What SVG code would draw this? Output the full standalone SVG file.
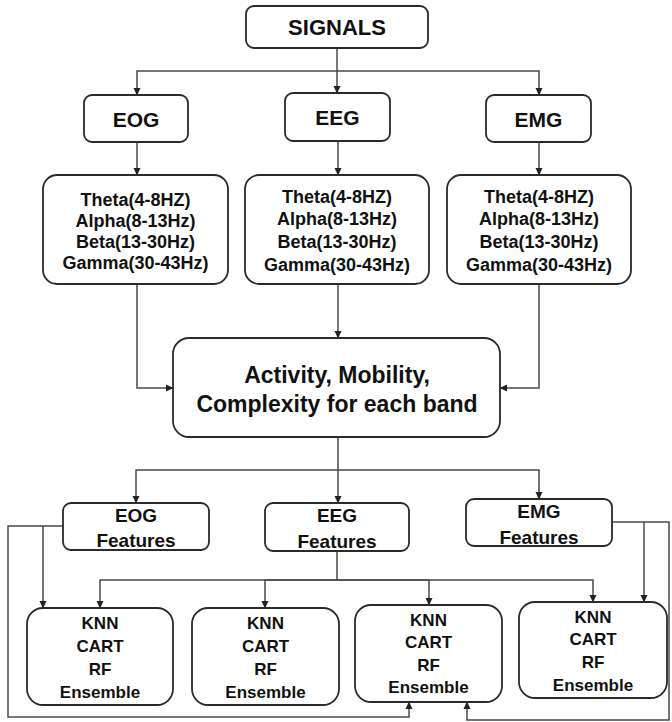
<svg xmlns="http://www.w3.org/2000/svg" width="672" height="722" viewBox="0 0 672 722">
<defs>
<marker id="arr" markerWidth="8" markerHeight="8" refX="7" refY="4" orient="auto" markerUnits="userSpaceOnUse">
<path d="M0,0.5 L7.5,4 L0,7.5 Z" fill="#222"/>
</marker>
<style>
.box{fill:#fff;stroke:#2a2a2a;stroke-width:1.8}
.t{font-family:"Liberation Sans",Arial,sans-serif;font-weight:bold;fill:#111;text-anchor:middle}
.c{fill:none;stroke:#4a4a4a;stroke-width:1.5;marker-end:url(#arr)}
</style>
</defs>
<rect width="672" height="722" fill="#fff"/>
<g id="connectors">
<path class="c" d="M337,48 V93"/>
<path class="c" d="M337,71 H137 V95"/>
<path class="c" d="M337,71 H539 V95"/>
<path class="c" d="M137,142 V175"/>
<path class="c" d="M338,141 V175"/>
<path class="c" d="M539,142 V175"/>
<path class="c" d="M137,284 V388 H173"/>
<path class="c" d="M338,284 V338"/>
<path class="c" d="M539,284 V388 H500"/>
<path class="c" d="M338,437 V470 H136 V503"/>
<path class="c" d="M338,470 V503"/>
<path class="c" d="M338,470 H539 V499"/>
<path class="c" d="M63,526 H43 V608"/>
<path class="c" d="M43,526 H8 V717 H409 V702"/>
<path class="c" d="M337,551 V580 H100 V608"/>
<path class="c" d="M337,580 H265 V608"/>
<path class="c" d="M337,580 H429 V605"/>
<path class="c" d="M337,580 H593 V602"/>
<path class="c" d="M612,522 H669 V720 H467 V702"/>
<path class="c" d="M644,522 V602"/>
</g>
<g id="signals">
<rect class="box" x="246" y="6" width="182" height="42" rx="8"/>
<text class="t" x="337" y="35" font-size="22">SIGNALS</text>
</g>
<g id="eog">
<rect class="box" x="84" y="95" width="104" height="47" rx="8"/>
<text class="t" x="136" y="127" font-size="21">EOG</text>
</g>
<g id="eeg">
<rect class="box" x="285" y="93" width="105" height="48" rx="8"/>
<text class="t" x="337.5" y="125" font-size="21">EEG</text>
</g>
<g id="emg">
<rect class="box" x="486" y="95" width="105" height="47" rx="8"/>
<text class="t" x="538.5" y="127" font-size="21">EMG</text>
</g>
<g id="bands-eog">
<rect class="box" x="43" y="175" width="185" height="109" rx="14"/>
<text class="t" x="135.5" font-size="18"><tspan x="135.5" y="206">Theta(4-8HZ)</tspan><tspan x="135.5" y="227">Alpha(8-13Hz)</tspan><tspan x="135.5" y="248">Beta(13-30Hz)</tspan><tspan x="135.5" y="269">Gamma(30-43Hz)</tspan></text>
</g>
<g id="bands-eeg">
<rect class="box" x="245" y="175" width="184" height="109" rx="14"/>
<text class="t" x="337" font-size="18"><tspan x="337" y="203">Theta(4-8HZ)</tspan><tspan x="337" y="225">Alpha(8-13Hz)</tspan><tspan x="337" y="248">Beta(13-30Hz)</tspan><tspan x="337" y="271">Gamma(30-43Hz)</tspan></text>
</g>
<g id="bands-emg">
<rect class="box" x="447" y="175" width="184" height="109" rx="14"/>
<text class="t" x="539" font-size="18"><tspan x="539" y="203">Theta(4-8HZ)</tspan><tspan x="539" y="225">Alpha(8-13Hz)</tspan><tspan x="539" y="248">Beta(13-30Hz)</tspan><tspan x="539" y="271">Gamma(30-43Hz)</tspan></text>
</g>
<g id="hjorth">
<rect class="box" x="173" y="338" width="327" height="99" rx="16"/>
<text class="t" x="337" font-size="23"><tspan x="337" y="383">Activity, Mobility,</tspan><tspan x="337" y="412">Complexity for each band</tspan></text>
</g>
<g id="feat-eog">
<rect class="box" x="63" y="503" width="146" height="47" rx="8"/>
<text class="t" x="136" font-size="19"><tspan x="136" y="522">EOG</tspan><tspan x="136" y="547">Features</tspan></text>
</g>
<g id="feat-eeg">
<rect class="box" x="265" y="503" width="144" height="48" rx="8"/>
<text class="t" x="337" font-size="19"><tspan x="337" y="522">EEG</tspan><tspan x="337" y="548">Features</tspan></text>
</g>
<g id="feat-emg">
<rect class="box" x="466" y="499" width="146" height="47" rx="8"/>
<text class="t" x="539" font-size="19"><tspan x="539" y="518">EMG</tspan><tspan x="539" y="544">Features</tspan></text>
</g>
<g id="clf1">
<rect class="box" x="27" y="608" width="146" height="97" rx="16"/>
<text class="t" x="100" font-size="17"><tspan x="100" y="629">KNN</tspan><tspan x="100" y="652">CART</tspan><tspan x="100" y="675">RF</tspan><tspan x="100" y="698">Ensemble</tspan></text>
</g>
<g id="clf2">
<rect class="box" x="192" y="608" width="147" height="97" rx="16"/>
<text class="t" x="265.5" font-size="17"><tspan x="265.5" y="629">KNN</tspan><tspan x="265.5" y="652">CART</tspan><tspan x="265.5" y="675">RF</tspan><tspan x="265.5" y="698">Ensemble</tspan></text>
</g>
<g id="clf3">
<rect class="box" x="355" y="605" width="147" height="97" rx="16"/>
<text class="t" x="428.5" font-size="17"><tspan x="428.5" y="626">KNN</tspan><tspan x="428.5" y="648">CART</tspan><tspan x="428.5" y="671">RF</tspan><tspan x="428.5" y="693">Ensemble</tspan></text>
</g>
<g id="clf4">
<rect class="box" x="519" y="602" width="148" height="96" rx="16"/>
<text class="t" x="593" font-size="17"><tspan x="593" y="623">KNN</tspan><tspan x="593" y="645">CART</tspan><tspan x="593" y="668">RF</tspan><tspan x="593" y="691">Ensemble</tspan></text>
</g>
</svg>
